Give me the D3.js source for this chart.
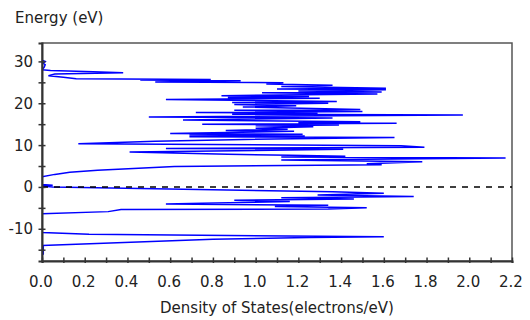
<!DOCTYPE html>
<html>
<head>
<meta charset="utf-8">
<script src="https://cdn.jsdelivr.net/npm/d3@7"></script>
<style>
  body { margin: 0; background: #fff; }
  text { font-family: "DejaVu Sans", sans-serif; font-size: 15px; fill: #222; }
</style>
</head>
<body>
<div id="chart"></div>
<script>
// density of states curve, energy in eV (sorted), dos in electrons/eV
const energy = [
  -16.2, -14.2, -14.0, -12.5, -12.1, -11.9, -11.3, -10.9,
  -6.4, -5.9, -5.4, -5.3, -4.95, -4.7, -4.4, -4.1, -3.9, -3.5, -3.2, -2.86,
  -2.6, -2.3, -1.9, -1.5, -1.15, 0.0, 0.25, 0.4, 0.6,
  2.45, 3.0, 3.5, 4.0, 4.6, 4.9, 5.3, 5.55, 6.0, 6.45, 6.9, 7.15, 7.35, 7.55,
  7.8, 8.35, 9.0, 9.2, 9.5, 9.85, 10.35, 10.9, 11.3, 11.8, 12.0, 12.2, 12.4,
  12.6, 12.8, 13.3, 13.5, 13.8, 14.0, 14.4, 14.6, 14.8, 15.0, 15.2, 15.4, 15.6,
  16.0, 16.5, 16.7, 17.2, 17.4, 17.6, 17.8, 18.0, 18.3, 18.5, 19.1, 19.4, 19.7,
  20.0, 20.2, 20.4, 20.9, 21.2, 21.4, 21.6, 21.8, 22.2, 22.5, 22.7, 22.9, 23.2,
  23.4, 23.6, 24.0, 24.3, 24.6, 24.9, 25.1, 25.4, 25.55, 25.7, 25.85, 26.2,
  26.6, 27.0, 27.3, 27.5, 27.8, 28.0, 28.6, 29.2, 29.6, 30.0, 30.3
];
const dos = [
  0.006, 0.006, 0.0, 0.8, 1.25, 1.6, 0.22, 0.0,
  0.0, 0.31, 0.37, 1.34, 1.52, 1.09, 1.34, 0.58, 0.75, 1.16, 0.9, 1.46,
  1.12, 1.74, 1.29, 1.6, 1.36, 0.05, 0.0, 0.05, 0.0,
  0.0, 0.06, 0.13, 0.26, 0.5, 0.62, 1.59, 1.52, 1.78, 1.12, 2.17, 1.12, 1.42, 1.16,
  0.87, 0.41, 1.41, 0.58, 1.79, 1.68, 0.17, 0.53, 0.89, 1.65, 0.69, 1.23, 0.69,
  1.22, 0.6, 1.18, 0.86, 1.15, 1.0, 1.27, 1.0, 1.39, 0.75, 1.66, 1.2, 1.49,
  0.66, 1.36, 0.5, 1.97, 0.89, 1.29, 0.72, 1.5, 0.9, 1.49, 0.94, 1.19, 0.9,
  1.34, 0.89, 1.38, 0.58, 1.3, 0.87, 1.25, 0.84, 1.57, 1.03, 1.59, 1.2, 1.61,
  1.1, 1.61, 1.12, 1.36, 1.05, 1.13, 0.53, 0.93, 0.46, 0.79, 0.16, 0.1,
  0.03, 0.06, 0.38, 0.24, 0.04, 0.0, 0.01, 0.015, 0.005, 0.015, 0.0
];

const xTickValues = d3.range(0, 23).map(i => i / 10);
const xLabels = [0, 0.2, 0.4, 0.6, 0.8, 1.0, 1.2, 1.4, 1.6, 1.8, 2.0, 2.2];
const yTickValues = [-15, -10, -5, 0, 5, 10, 15, 20, 25, 30];
const yLabels = [-10, 0, 10, 20, 30];
const fermiLevel = 0;

const width = 530, height = 320;
const plotLeft = 42, plotRight = 512, plotTop = 43, plotBottom = 261;

const svg = d3.select("#chart").append("svg")
  .attr("width", width)
  .attr("height", height);

const x = d3.scaleLinear().domain([0, 2.2]).range([plotLeft, plotRight]);
const y = d3.scaleLinear().domain([-17.7, 34.4]).range([plotBottom, plotTop]);

svg.append("defs").append("clipPath").attr("id", "plot")
  .append("rect")
  .attr("x", plotLeft).attr("y", plotTop)
  .attr("width", plotRight - plotLeft).attr("height", plotBottom - plotTop);

// frame
svg.append("rect")
  .attr("x", plotLeft).attr("y", plotTop)
  .attr("width", plotRight - plotLeft).attr("height", plotBottom - plotTop)
  .attr("fill", "none")
  .attr("stroke", "#555")
  .attr("stroke-width", 1.5);

const points = energy.map((e, i) => ({e: e, d: dos[i]}));

const line = d3.line()
  .x(p => x(p.d))
  .y(p => y(p.e));

svg.append("path")
  .datum(points)
  .attr("clip-path", "url(#plot)")
  .attr("fill", "none")
  .attr("stroke", "#0000ff")
  .attr("stroke-width", 1.5)
  .attr("d", line);

svg.append("line")
  .attr("x1", x(0)).attr("x2", x(2.2))
  .attr("y1", y(fermiLevel)).attr("y2", y(fermiLevel))
  .attr("stroke", "#000")
  .attr("stroke-width", 1.6)
  .attr("stroke-dasharray", "6,6");

// axes
const xAxis = svg.append("g")
  .attr("transform", "translate(0," + plotBottom + ")")
  .call(d3.axisBottom(x).tickValues(xTickValues).tickSize(2).tickFormat(""));
xAxis.select(".domain").attr("stroke", "#333").attr("stroke-width", 2);
xAxis.selectAll(".tick line")
  .attr("y1", -3.5).attr("y2", 2)
  .attr("stroke", "#333").attr("stroke-width", 1.5);

const yAxis = svg.append("g")
  .attr("transform", "translate(" + plotLeft + ",0)")
  .call(d3.axisLeft(y).tickValues(yTickValues).tickSize(3.5).tickFormat(""));
yAxis.select(".domain").attr("stroke", "#333").attr("stroke-width", 2);
yAxis.selectAll(".tick line")
  .attr("x1", -3.5).attr("x2", 3.5)
  .attr("stroke", "#333").attr("stroke-width", 1.5);

svg.append("g").selectAll("text")
  .data(xLabels)
  .enter().append("text")
  .attr("x", d => x(d) - 1)
  .attr("y", 287)
  .attr("text-anchor", "middle")
  .text(d => d3.format(".1f")(d));

svg.append("g").selectAll("text")
  .data(yLabels)
  .enter().append("text")
  .attr("x", 33)
  .attr("y", d => y(d) + 5.5)
  .attr("text-anchor", "end")
  .text(d => d);

svg.append("text")
  .attr("x", 15).attr("y", 23)
  .text("Energy (eV)");

svg.append("text")
  .attr("x", (plotLeft + plotRight) / 2).attr("y", 313)
  .attr("text-anchor", "middle")
  .text("Density of States(electrons/eV)");
</script>
</body>
</html>
